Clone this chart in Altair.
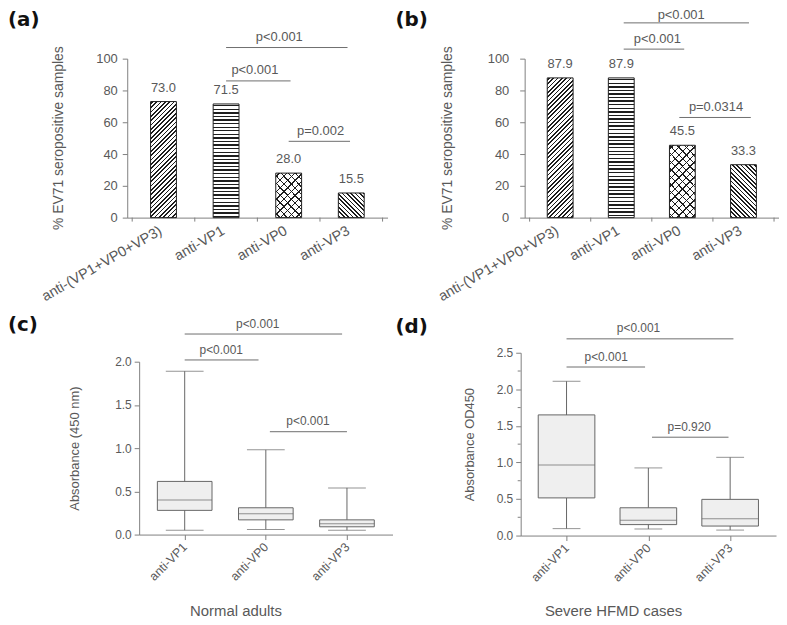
import math
import altair as alt
import pandas as pd

# ---------------- data ----------------
bar_cats = ["anti-(VP1+VP0+VP3)", "anti-VP1", "anti-VP0", "anti-VP3"]
bar_hatch = ["fwd", "horiz", "cross", "back"]
pct_a = [73.0, 71.5, 28.0, 15.5]
pct_b = [87.9, 87.9, 45.5, 33.3]

a_brk_x0 = [1.0, 1.0, 2.0]
a_brk_x1 = [2.94, 2.03, 2.98]
a_brk_y = [107.0, 86.0, 48.0]
a_lab_x = [1.85, 1.46, 2.51]
a_lab = ["p<0.001", "p<0.001", "p=0.002"]

b_brk_x0 = [1.04, 1.04, 1.95]
b_brk_x1 = [3.09, 2.03, 3.12]
b_brk_y = [122.5, 106.0, 63.0]
b_lab_x = [1.98, 1.59, 2.55]
b_lab = ["p<0.001", "p<0.001", "p=0.0314"]

box_cats = ["anti-VP1", "anti-VP0", "anti-VP3"]
c_lo = [0.05, 0.06, 0.05]
c_q1 = [0.28, 0.17, 0.09]
c_med = [0.40, 0.24, 0.125]
c_q3 = [0.615, 0.31, 0.17]
c_hi = [1.89, 0.98, 0.54]
c_brk_x0 = [0.0, 0.0, 1.05]
c_brk_x1 = [1.94, 0.91, 2.0]
c_brk_y = [2.32, 2.02, 1.19]
c_lab_x = [0.90, 0.45, 1.52]
c_lab = ["p<0.001", "p<0.001", "p<0.001"]

d_lo = [0.095, 0.09, 0.075]
d_q1 = [0.515, 0.15, 0.13]
d_med = [0.965, 0.21, 0.23]
d_q3 = [1.65, 0.38, 0.495]
d_hi = [2.11, 0.925, 1.07]
d_brk_x0 = [0.0, 0.0, 1.045]
d_brk_x1 = [2.04, 0.96, 1.98]
d_brk_y = [2.69, 2.305, 1.345]
d_lab_x = [0.88, 0.485, 1.5]
d_lab = ["p<0.001", "p<0.001", "p=0.920"]
d_minor = [0.25, 0.75, 1.25, 1.75, 2.25]

bar_ytitle = "% EV71 seropositive samples"

# ---------------- style ----------------
TXT = "#595959"
AX = "#808080"
INK = "#1e1e1e"
FONT = "Liberation Sans"
BAR_W = 26
BAR_H = 160


def label_expr(cats):
    arr = ",".join("'" + c + "'" for c in cats)
    return "[" + arr + "][round(datum.value)]"


def hatch_gradient(kind, w, h, spacing, lw, fg, bg):
    if kind == "horiz":
        L = h
        coords = dict(x1=0, y1=0, x2=0, y2=1)
    else:
        k = h / w
        d = (1 + k) / (1 + k * k)
        L = (w + h) / math.sqrt(2)
        if kind == "fwd":
            coords = dict(x1=0, y1=0, x2=d, y2=k * d)
        else:
            coords = dict(x1=0, y1=1, x2=d, y2=1 - k * d)
    stops = []
    pos = spacing / 2
    while pos - lw / 2 < L:
        a = max(0.0, (pos - lw / 2) / L)
        b = min(1.0, (pos + lw / 2) / L)
        stops += [(a, bg), (a, fg), (b, fg), (b, bg)]
        pos += spacing
    return alt.LinearGradient(
        gradient="linear",
        stops=[alt.GradientStop(offset=round(o, 5), color=c) for o, c in stops],
        **{kk: round(v, 5) for kk, v in coords.items()},
    )


def tag_layer(tag, tx, ty):
    return alt.Chart(pd.DataFrame({"t": [tag]})).mark_text(
        align="left", baseline="middle", fontSize=20, fontWeight="bold",
        font="DejaVu Sans", color="#111111"
    ).encode(x=alt.value(tx), y=alt.value(ty), text="t:N")


def vtitle_layer(text, tx, ty, fs):
    return alt.Chart(pd.DataFrame({"t": [text]})).mark_text(
        angle=270, align="center", baseline="alphabetic", fontSize=fs, color=TXT, font=FONT
    ).encode(x=alt.value(tx), y=alt.value(ty), text="t:N")


def anchor_layer(x0, y0):
    # invisible extent marker so the page origin is predictable
    return alt.Chart(pd.DataFrame({"t": [0]})).mark_rect(opacity=0).encode(
        x=alt.value(x0), x2=alt.value(x0 + 1), y=alt.value(y0), y2=alt.value(y0 + 1))


def bracket_layers(x0, x1, yv, lx, labs, XQ, YQ, fs, dys):
    bdf = pd.DataFrame({"x0": x0, "x1": x1, "y": yv, "lx": lx, "lab": labs})
    out = [alt.Chart(bdf).mark_rule(color="#6e6e6e", strokeWidth=1).encode(
        x=XQ("x0"), x2="x1:Q", y=YQ("y"))]
    for i, dy in enumerate(dys):
        out.append(alt.Chart(bdf.iloc[[i]]).mark_text(
            dy=dy, fontSize=fs, color=TXT, baseline="middle").encode(
            x=XQ("lx"), y=YQ("y"), text="lab:N"))
    return out


def bar_panel(vals, bx0, bx1, by, lx, labs, dys, tag, gw, xr, yoff, ytx, ylp, tx, ty,
              anchor=False):
    df = pd.DataFrame({"cat": bar_cats, "pos": list(range(len(bar_cats))),
                       "val": vals, "hatch": bar_hatch})
    xs = alt.Scale(domain=[-0.5, len(bar_cats) - 0.5], range=xr, nice=False, zero=False)
    ys = alt.Scale(domain=[0, 100], nice=False)
    x_axis = alt.Axis(title="", values=list(range(len(bar_cats))),
                      labelExpr=label_expr(bar_cats), ticks=False,
                      labelAngle=-30, labelAlign="right", labelBaseline="middle",
                      labelPadding=12, labelOffset=-3, labelFontSize=14.5)
    y_axis = alt.Axis(title="", values=[0, 20, 40, 60, 80, 100],
                      tickSize=5, labelFontSize=13, labelPadding=ylp, offset=yoff)

    def XQ(f):
        return alt.X(f + ":Q", scale=xs, axis=x_axis)

    def YQ(f):
        return alt.Y(f + ":Q", scale=ys, axis=y_axis)

    layers = []
    for i, (cat, v, kind) in enumerate(zip(bar_cats, vals, bar_hatch)):
        hp = v * BAR_H / 100.0
        if kind == "horiz":
            grad = hatch_gradient("horiz", BAR_W, hp, 3.6, 1.4, INK, "#ffffff")
        elif kind == "cross":
            grad = hatch_gradient("fwd", BAR_W, hp, 5.4, 1.0, INK, "#ffffff")
        else:
            grad = hatch_gradient(kind, BAR_W, hp, 3.1, 1.2, INK, "#ffffff")
        layers.append(
            alt.Chart(df).transform_filter(alt.datum.cat == cat)
            .mark_bar(size=BAR_W, orient="vertical", fill=grad, stroke=INK, strokeWidth=1)
            .encode(x=XQ("pos"), y=YQ("val"))
        )
        if kind == "cross":
            g2 = hatch_gradient("back", BAR_W, hp, 5.4, 1.0, INK, "rgba(255,255,255,0)")
            layers.append(
                alt.Chart(df).transform_filter(alt.datum.cat == cat)
                .mark_bar(size=BAR_W - 1, orient="vertical", fill=g2, strokeWidth=0)
                .encode(x=XQ("pos"), y=YQ("val"))
            )
    layers.append(
        alt.Chart(df).mark_text(dy=-14, fontSize=13, color=TXT, baseline="middle").encode(
            x=XQ("pos"), y=YQ("val"), text=alt.Text("val:Q", format=".1f"))
    )
    tdf = pd.DataFrame({"b": [i - 0.5 for i in range(len(bar_cats) + 1)]})
    layers.append(
        alt.Chart(tdf).mark_rule(color=AX).encode(
            x=XQ("b"), y=alt.value(BAR_H), y2=alt.value(BAR_H + 4))
    )
    layers += bracket_layers(bx0, bx1, by, lx, labs, XQ, YQ, 13, dys)
    layers.append(vtitle_layer(bar_ytitle, ytx, BAR_H / 2, 14))
    layers.append(tag_layer(tag, tx, ty))
    if anchor:
        layers.append(anchor_layer(-140, -62))
    return alt.layer(*layers).properties(width=gw, height=BAR_H)


def box_panel(lo, q1, med, q3, hi, bx0, bx1, by, lx, labs, tag, gw, gh, xr, yr, yoff,
              ymax, yvals, ytitle, ytx, xtitle, xtx, xty, bw, capw, minor, tx, ty):
    n = len(box_cats)
    df = pd.DataFrame({"cat": box_cats, "pos": list(range(n)), "lo": lo, "q1": q1,
                       "med": med, "q3": q3, "hi": hi})
    xs = alt.Scale(domain=[-0.5, n - 0.5], range=xr, nice=False, zero=False)
    ys = alt.Scale(domain=[0, ymax], range=yr, nice=False)
    x_axis = alt.Axis(title=xtitle, values=list(range(n)), labelExpr=label_expr(box_cats),
                      labelAngle=-45, labelAlign="right", labelBaseline="middle",
                      labelPadding=5, labelFontSize=12.5, tickSize=5, titleFontSize=15,
                      titleX=xtx, titleY=xty, titleAlign="center", titleBaseline="alphabetic")
    y_axis = alt.Axis(title=ytitle, values=yvals, format=".1f", tickSize=5, labelFontSize=12,
                      labelPadding=3, titleFontSize=13, titleX=ytx,
                      titleY=(yr[0] + yr[1]) / 2, titleAlign="center",
                      titleBaseline="alphabetic", offset=yoff)

    def XQ(f):
        return alt.X(f + ":Q", scale=xs, axis=x_axis)

    def YQ(f):
        return alt.Y(f + ":Q", scale=ys, axis=y_axis)

    base = alt.Chart(df)
    C = "#666666"
    layers = [
        base.mark_rule(color=C).encode(x=XQ("pos"), y=YQ("lo"), y2="hi:Q"),
        base.mark_bar(size=bw, orient="vertical", fill="#efefef", stroke=C, strokeWidth=1).encode(
            x=XQ("pos"), y=YQ("q1"), y2="q3:Q"),
        base.mark_tick(orient="horizontal", size=bw, thickness=1, color=C).encode(
            x=XQ("pos"), y=YQ("med")),
        base.mark_tick(orient="horizontal", size=capw, thickness=1, color=C).encode(
            x=XQ("pos"), y=YQ("lo")),
        base.mark_tick(orient="horizontal", size=capw, thickness=1, color=C).encode(
            x=XQ("pos"), y=YQ("hi")),
    ]
    layers += bracket_layers(bx0, bx1, by, lx, labs, XQ, YQ, 12, [-10.5, -10.5, -10.5])
    if minor:
        mdf = pd.DataFrame({"v": minor})
        layers.append(
            alt.Chart(mdf).mark_rule(color=AX).encode(
                y=YQ("v"), x=alt.value(-3), x2=alt.value(0)))
    layers.append(tag_layer(tag, tx, ty))
    return alt.layer(*layers).properties(width=gw, height=gh)


pa = bar_panel(pct_a, a_brk_x0, a_brk_x1, a_brk_y, a_lab_x, a_lab, [-10.5, -10.5, -10.5], "(a)",
               262, [0, 262], 0, -65, 5, -120, -39, anchor=True)
pb = bar_panel(pct_b, b_brk_x0, b_brk_x1, b_brk_y, b_lab_x, b_lab, [-7.5, -10.5, -10.5], "(b)",
               260, [4, 260], -4, -69, 11, -126, -39)
pc = box_panel(c_lo, c_q1, c_med, c_q3, c_hi, c_brk_x0, c_brk_x1, c_brk_y, c_lab_x, c_lab, "(c)",
               267, 183, [12, 267], [183, 9], -12, 2.0, [0, 0.5, 1.0, 1.5, 2.0],
               "Absorbance (450 nm)", -61, "Normal adults", 109, 81, 55, 38, None, -120, -28)
pd_ = box_panel(d_lo, d_q1, d_med, d_q3, d_hi, d_brk_x0, d_brk_x1, d_brk_y, d_lab_x, d_lab, "(d)",
                257, 184, [0, 257], [184, 0], 0, 2.5, [0, 0.5, 1.0, 1.5, 2.0, 2.5],
                "Absorbance OD450", -47, "Severe HFMD cases", 93, 80, 57, 28, d_minor, -126, -26)

chart = alt.concat(
    pa, pb, pc, pd_, columns=2,
    spacing=alt.RowColnumber(row=136, column=129),
    bounds="flush", align="each",
).properties(
    padding={"left": -20, "top": -13, "right": 0, "bottom": 0},
).configure(font=FONT).configure_axis(
    labelFont=FONT, titleFont=FONT, labelColor=TXT, titleColor=TXT,
    domainColor=AX, tickColor=AX, grid=False, titleFontWeight="normal",
).configure_view(strokeWidth=0)

chart.save("out.html", embed_options={"renderer": "svg", "actions": False})
